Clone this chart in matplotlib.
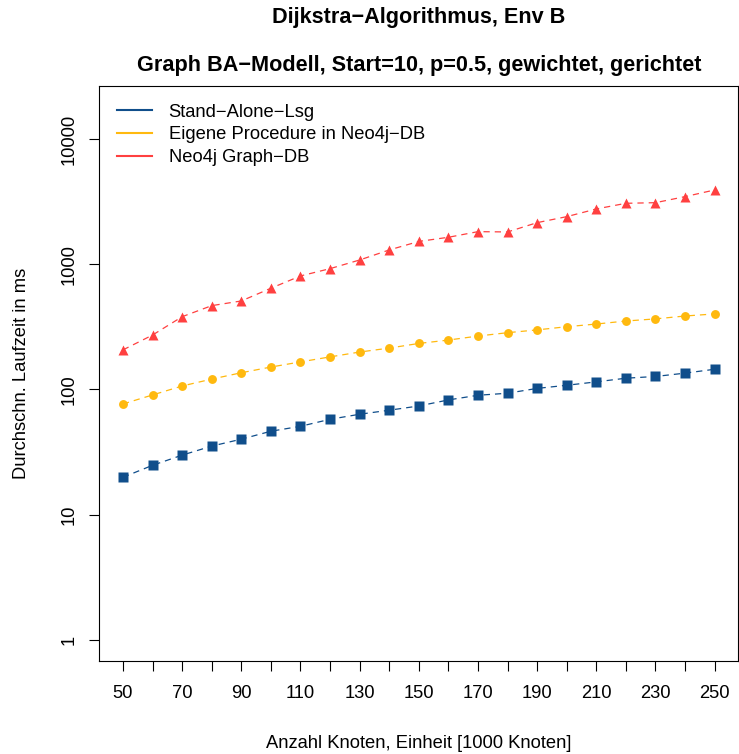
import numpy as np
import matplotlib
matplotlib.use("Agg")
import matplotlib.pyplot as plt
from matplotlib.lines import Line2D

plt.rcParams['font.family'] = ['Liberation Sans', 'DejaVu Sans']

# knoten in 1000
knoten = [50, 60, 70, 80, 90, 100, 110, 120, 130, 140, 150,
          160, 170, 180, 190, 200, 210, 220, 230, 240, 250]

# mittlere laufzeiten in ms
standalone = [19.9, 24.8, 29.9, 35.3, 40.1, 46.4, 50.8, 57.8, 63.4, 68.3, 73.8,
              82.5, 89.9, 93.3, 102, 108, 115, 123, 127, 135, 145]
procedure = [76.6, 90.4, 106.6, 121, 136, 151, 166, 182, 199, 214, 233,
             248, 267, 284, 299, 317, 333, 352, 366, 386, 401]
graphdb = [207, 272, 381, 467, 509, 643, 806, 922, 1081, 1300, 1520,
           1641, 1820, 1810, 2148, 2398, 2762, 3065, 3100, 3465, 3917]

series_names = ["Stand\u2212Alone\u2212Lsg", "Eigene Procedure in Neo4j\u2212DB", "Neo4j Graph\u2212DB"]
colors = ["#104E8B", "#FFB90F", "#FF4040"]
markers = ["s", "o", "^"]
msizes = [6.6, 6.4, 7.6]

yticks = [1, 10, 100, 1000, 10000]
xticks = list(range(50, 260, 10))

fs = 13.2
fig = plt.figure(figsize=(7.39, 7.54), dpi=100)
ax = fig.add_axes([99 / 739, 1 - 661 / 754, 639 / 739, 575 / 754])

for vals, c, m, ms in zip([standalone, procedure, graphdb], colors, markers, msizes):
    ax.plot(knoten, vals, color=c, lw=0.9, dashes=(5, 4))
    ax.plot(knoten, vals, color=c, ls='none', marker=m, ms=ms, mec='none')

ax.set_yscale('log')
ax.set_xlim(41.9, 257.9)
ax.set_ylim(10 ** -0.168, 10 ** 4.423)
ax.minorticks_off()

ax.set_yticks(yticks)
ax.set_yticklabels([str(v) for v in yticks], rotation=90, va='center', fontsize=fs)
ax.set_xticks(xticks)
ax.set_xticklabels([str(v) if (v - 50) % 20 == 0 else "" for v in xticks], fontsize=fs)
ax.tick_params(axis='both', direction='out', length=7.2, width=0.8)
ax.tick_params(axis='x', pad=10)
ax.tick_params(axis='y', pad=8)
for sp in ax.spines.values():
    sp.set_linewidth(0.8)

ax.set_xlabel("Anzahl Knoten, Einheit [1000 Knoten]", fontsize=fs, labelpad=24)
ax.set_ylabel("Durchschn. Laufzeit in ms", fontsize=fs, labelpad=22)

fig.text(419 / 739, 1 - 18 / 754, "Dijkstra\u2212Algorithmus, Env B",
         ha='center', va='center', fontsize=15.6, fontweight='bold')
fig.text(419 / 739, 1 - 65 / 754,
         "Graph BA\u2212Modell, Start=10, p=0.5, gewichtet, gerichtet",
         ha='center', va='center', fontsize=15.6, fontweight='bold')

handles = [Line2D([0], [0], color=c, lw=1.5) for c in colors]
ax.legend(handles, series_names, loc='upper left', frameon=False, fontsize=fs,
          handlelength=1.91, handletextpad=0.93, labelspacing=0.31,
          borderaxespad=0.0, bbox_to_anchor=(0.016, 0.982))

fig.savefig("out.png", dpi=100)
